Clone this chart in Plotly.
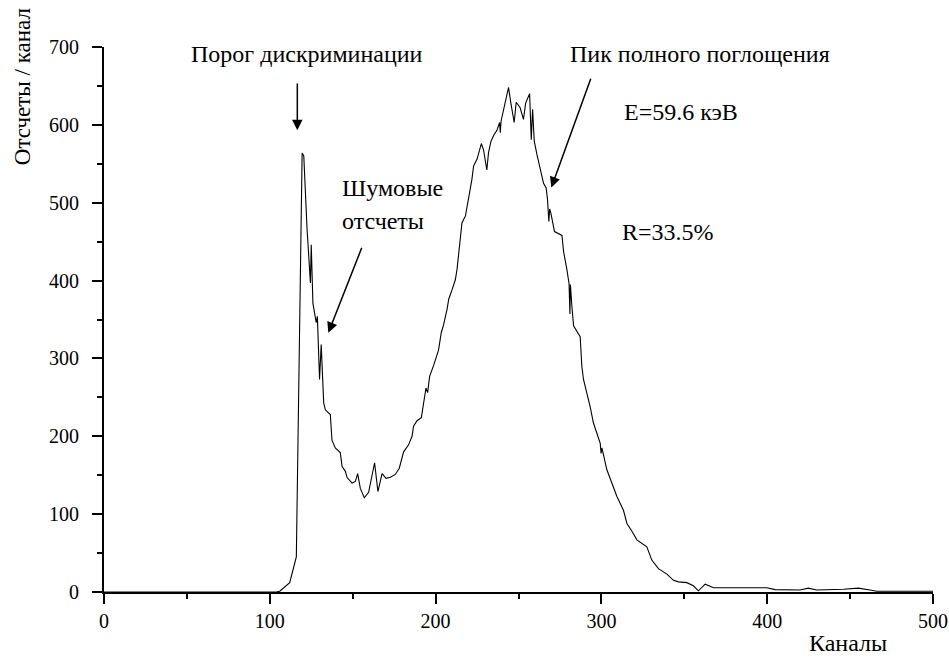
import plotly.graph_objects as go

channels = [0, 104, 106, 112, 116, 119.5, 120.5, 122.5, 124.5, 125, 126, 128, 128.7, 130, 131,
            132.5, 133.5, 136.5, 137.5, 139.5, 142.5, 143.6, 145.6, 146.6, 149.6, 151.6, 153,
            154.6, 157, 159.6, 163.2, 165.2, 167.7, 170.1, 172.7, 175.7, 178.1, 180.7, 183.7,
            185.8, 186.7, 188.8, 191.4, 192.8, 194.2, 195.2, 196.4, 198.8, 199.8, 201.8, 203.4,
            204.8, 206.9, 207.9, 209.9, 211.9, 212.9, 214.5, 215.9, 218, 218.9, 220.5, 221.9,
            222.9, 225, 227.6, 228.9, 230.9, 231.9, 233.4, 235.4, 237, 238.6, 239, 239.5, 240.6,
            242, 244, 245.4, 247.4, 248.6, 251, 253, 254.3, 256.7, 257.7, 258.5, 259.5, 261.1,
            263.1, 264.1, 265.1, 266.7, 267.5, 268.3, 268.8, 269.5, 271.7, 276.2, 277.2, 279.2,
            280.5, 281, 281.3, 282.2, 283.2, 287.2, 288.2, 289.2, 291.2, 293.2, 295.2, 297.3,
            299.3, 299.8, 300.3, 303.3, 305.3, 309.3, 313.3, 315.4, 318.4, 321.4, 327.4, 330.4,
            334.4, 339.5, 343.5, 346.5, 351.5, 355.5, 358.5, 362.6, 367.6, 399.8, 404.8, 411.8,
            419.8, 424.8, 429.8, 446, 455, 462, 466, 500]
counts = [0, 0, 1, 12, 45, 564, 560, 465, 397, 446, 371, 346, 354, 273, 318,
          243, 234, 228, 195, 185, 179, 161, 155, 147, 140, 142, 152,
          133, 121, 128, 166, 129, 152, 146, 147.5, 151, 159, 180, 189,
          200, 213, 220, 224, 243, 262, 256, 277, 291, 298, 311, 333,
          343, 363, 376, 388, 401, 414, 444, 474, 483, 496, 513, 530,
          547, 556, 576, 568, 542, 564, 579, 588, 593, 603, 590, 605, 616,
          628, 648, 628, 603, 629, 622, 607, 628, 640, 581, 620, 579, 562,
          543, 534, 525, 519, 504, 476, 492, 487, 463, 458, 437, 414,
          396, 357, 395, 367, 342, 328, 290, 273, 256, 238, 217, 204,
          191, 178, 185, 157, 146, 123, 105, 88, 78, 67, 58, 41,
          30, 23, 15, 13, 12, 8, 1.5, 10, 5.5, 5.5, 3, 2.5,
          2.5, 5, 2.5, 3.5, 5, 2.5, 1, 1]

x_ticks = [0, 100, 200, 300, 400, 500]
y_ticks = [0, 100, 200, 300, 400, 500, 600, 700]

FONT = "Liberation Serif"

fig = go.Figure()
fig.add_trace(go.Scatter(x=channels, y=counts, mode="lines",
                         line=dict(color="black", width=1.1), showlegend=False,
                         hoverinfo="skip"))

axis_common = dict(showgrid=False, zeroline=False, showline=True, linecolor="black",
                   linewidth=2, ticks="outside", ticklen=10, tickwidth=2, automargin=False,
                   tickcolor="black", tickfont=dict(family=FONT, size=20, color="black"))

fig.update_xaxes(range=[0, 500], tickvals=x_ticks, ticktext=[str(v) for v in x_ticks],
                 minor=dict(ticks="outside", ticklen=5, tickwidth=2, tickcolor="black", dtick=50,
                            tick0=0, showgrid=False),
                 **axis_common)
fig.update_yaxes(range=[0, 700], tickvals=y_ticks, ticktext=[str(v) for v in y_ticks],
                 ticklabelstandoff=9,
                 minor=dict(ticks="outside", ticklen=5, tickwidth=2, tickcolor="black", dtick=50,
                            tick0=0, showgrid=False),
                 **axis_common)

tfont = dict(family=FONT, size=24, color="black")
annotations = [
    dict(x=122.7, y=691, text="Порог дискриминации", showarrow=False, xanchor="center",
         yanchor="middle", font=tfont),
    dict(x=359.5, y=691, text="Пик полного поглощения", showarrow=False, xanchor="center",
         yanchor="middle", font=tfont),
    dict(x=312.6, y=616, text="E=59.6 кэВ", showarrow=False, xanchor="left",
         yanchor="middle", font=tfont),
    dict(x=311.3, y=463, text="R=33.5%", showarrow=False, xanchor="left",
         yanchor="middle", font=tfont),
    dict(x=142.5, y=519.5, text="Шумовые", showarrow=False, xanchor="left",
         yanchor="middle", font=tfont),
    dict(x=142.5, y=476, text="отсчеты", showarrow=False, xanchor="left",
         yanchor="middle", font=tfont),
    # arrows
    dict(x=116.6, y=593, ax=116.6, ay=655, axref="x", ayref="y", text="", showarrow=True,
         arrowhead=2, arrowsize=1.4, arrowwidth=1.5, arrowcolor="black", standoff=0),
    dict(x=135.3, y=333, ax=155.8, ay=444, axref="x", ayref="y", text="", showarrow=True,
         arrowhead=2, arrowsize=1.4, arrowwidth=1.5, arrowcolor="black", standoff=0),
    dict(x=269.8, y=519.5, ax=293.9, ay=661, axref="x", ayref="y", text="", showarrow=True,
         arrowhead=2, arrowsize=1.4, arrowwidth=1.5, arrowcolor="black", standoff=0),
    # axis titles
    dict(x=-0.099, y=0.928, xref="paper", yref="paper", text="Отсчеты / канал",
         showarrow=False, textangle=-90, xanchor="center", yanchor="middle",
         font=dict(family=FONT, size=23, color="black")),
    dict(x=0.897, y=-0.122, xref="paper", yref="paper", text="Каналы",
         showarrow=False, xanchor="center", yanchor="bottom", font=tfont),
]
fig.update_layout(width=949, height=659, margin=dict(l=104, r=16, t=47, b=67, autoexpand=False),
                  paper_bgcolor="white", plot_bgcolor="white", annotations=annotations,
                  font=dict(family=FONT, size=20, color="black"))

fig.write_html("out.html")
